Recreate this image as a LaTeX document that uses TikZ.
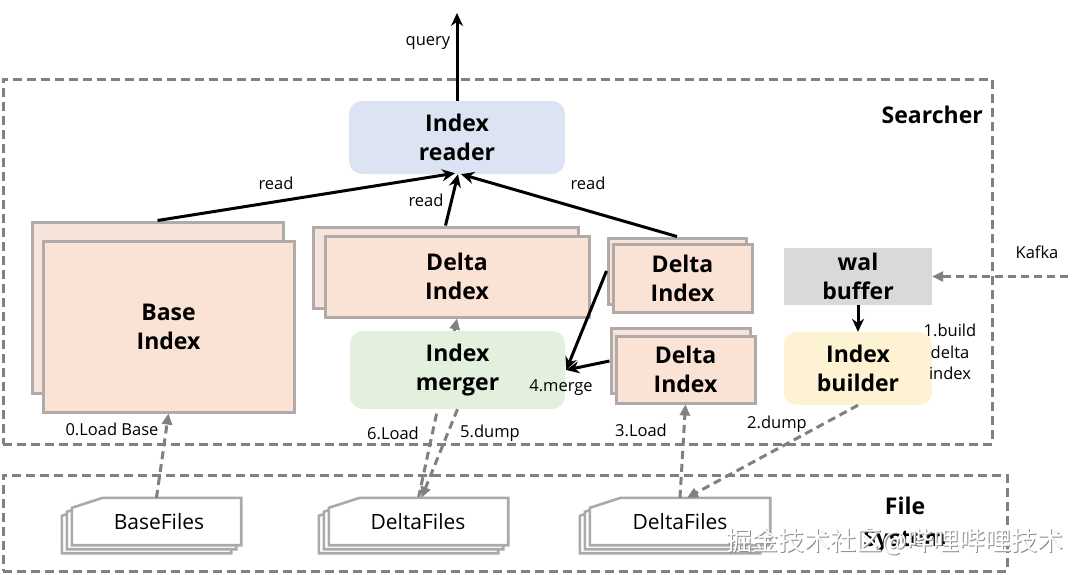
\documentclass[tikz,border=0pt]{standalone}
\usepackage{fontspec}
\setmainfont{Open Sans}
\newfontfamily\cjkfont{Noto Sans CJK SC}
\usetikzlibrary{arrows.meta,calc,backgrounds}
\definecolor{pinkfill}{RGB}{250,226,213}
\definecolor{pinkback}{RGB}{246,228,218}
\definecolor{boxborder}{RGB}{178,170,168}
\definecolor{readerblue}{RGB}{220,228,244}
\definecolor{mergergreen}{RGB}{227,240,221}
\definecolor{builderyellow}{RGB}{253,242,210}
\definecolor{walgray}{RGB}{217,217,217}
\definecolor{dgray}{RGB}{128,128,128}
\definecolor{docgray}{RGB}{170,170,170}
\definecolor{wmgray}{RGB}{140,140,140}
\tikzset{
  bfont/.style={font=\fontsize{23}{29}\selectfont\bfseries},
  lbl/.style={font=\fontsize{16.5}{21.5}\selectfont, inner sep=0pt, align=center},
  frame/.style={draw=dgray, line width=3pt, dash pattern=on 9pt off 5pt, inner sep=0pt},
  pbox/.style={draw=boxborder, line width=3pt, fill=pinkfill, inner sep=0pt, align=center, bfont},
  pback/.style={draw=boxborder, line width=3pt, fill=pinkback, inner sep=0pt},
  rbox/.style={rounded corners=13pt, inner sep=0pt, align=center, bfont},
  darr/.style={draw=dgray, line width=3pt, dash pattern=on 8pt off 5pt, -{Triangle[length=11pt,width=10pt]}},
  barr/.style={draw=black, line width=3pt, -{Stealth[length=13pt,width=12pt]}},
  docline/.style={draw=docgray, line width=2.6pt, fill=white},
  docbox/.style={minimum width=169pt, minimum height=47pt, inner sep=0pt},
  doctext/.style={font=\fontsize{21}{25}\selectfont, inner sep=0pt},
}
\newcommand\docstack[1]{%
  \foreach \d in {2,1,0}{%
    \draw[docline] ($(#1.north west)+(-5*\d,4*\d)+(0,10)$) -- ($(#1.north west)+(-5*\d,4*\d)+(31,0)$)
      -- ($(#1.north east)+(-5*\d,4*\d)$) -- ($(#1.south east)+(-5*\d,4*\d)$)
      -- ($(#1.south west)+(-5*\d,4*\d)$) -- cycle;
  }}
\begin{document}
\begin{tikzpicture}[x=1pt,y=-1pt]
\useasboundingbox (0,0) rectangle (1080,574);
\begin{pgfonlayer}{background}
\fill[white] (0,0) rectangle (1080,574);
\end{pgfonlayer}

% frames
\node[frame, minimum width=989pt, minimum height=365pt] (searcher) at (497.5,261.5) {};
\node[frame, minimum width=1004pt, minimum height=96pt] (fs) at (505,523) {};
\node[bfont, anchor=east, inner sep=0pt] (searcherlbl) at (983,115) {Searcher};
\node[bfont, align=center, inner sep=0pt, font=\fontsize{23}{32}\selectfont\bfseries] (fslbl) at (905,525) {File\\System};

% index reader
\node[rbox, fill=readerblue, minimum width=216pt, minimum height=73pt] (reader) at (457,137.5) {Index\\reader};
\coordinate (qtop) at (457,13);
\draw[barr] (reader.north) -- (qtop);
\node[lbl] (querylbl) at (428,43) {query};

% base index
\node[pback, minimum width=251pt, minimum height=171pt] (baseb) at (157.5,307.5) {};
\node[pbox, minimum width=251pt, minimum height=171pt] (base) at (168.5,326.5) {Base\\Index};

% delta index 1
\node[pback, minimum width=265pt, minimum height=81pt] (d1b) at (445.5,267.5) {};
\node[pbox, minimum width=264pt, minimum height=81pt] (d1) at (457,276.5) {Delta\\Index};

% delta index 2
\node[pback, minimum width=138pt, minimum height=66pt] (d2b) at (677,271) {};
\node[pbox, minimum width=139pt, minimum height=68pt] (d2) at (682.5,278) {Delta\\Index};

% delta index 3
\node[pback, minimum width=139pt, minimum height=65pt] (d3b) at (680.5,361) {};
\node[pbox, minimum width=139pt, minimum height=67pt] (d3) at (685.5,369.5) {Delta\\Index};

% merger
\node[rbox, fill=mergergreen, minimum width=215pt, minimum height=78pt] (merger) at (457.5,370) {Index\\merger};

% wal buffer and builder
\node[fill=walgray, minimum width=148pt, minimum height=57pt, inner sep=0pt, align=center, bfont] (wal) at (858,276.5) {wal\\buffer};
\node[rbox, fill=builderyellow, minimum width=148pt, minimum height=73pt] (builder) at (858,368.5) {Index\\builder};
\draw[barr] (wal.south) -- (builder.north);
\coordinate (kafka) at (1068,276.5);
\draw[darr] (kafka) -- (wal.east);
\node[lbl] (kafkalbl) at (1037,252) {Kafka};
\node[lbl] (buildlbl) at (950,352) {1.build\\delta\\index};

% read connectors
\draw[barr] (baseb.north) -- ($(reader.south)+(-2,-1)$);
\draw[barr] (d1b.north) -- ($(reader.south)+(1,0)$);
\draw[barr] (d2b.north) -- ($(reader.south)+(4,0)$);
\node[lbl] (read1) at (276,183) {read};
\node[lbl] (read2) at (426,200) {read};
\node[lbl] (read3) at (588,183) {read};

% merge connectors
\draw[barr] (d2b.west) -- ($(merger.east)+(1,0)$);
\draw[barr] (d3b.west) -- ($(merger.east)+(1,0)$);
\node[lbl] (mergelbl) at (561,388) {4.merge};

% files
\node[docbox] (bf) at (156.5,521.5) {};
\docstack{bf}
\node[doctext] (bftext) at (159,521.5) {BaseFiles};
\node[docbox, minimum width=179pt] (df1) at (418.5,521.5) {};
\docstack{df1}
\node[doctext] (df1text) at (418,521.5) {DeltaFiles};
\node[docbox, minimum width=180pt] (df2) at (680,521.5) {};
\docstack{df2}
\node[doctext] (df2text) at (680,521.5) {DeltaFiles};

% dashed connectors
\begin{pgfonlayer}{background}
\draw[darr] (df1.north) -- (d1.south);
\end{pgfonlayer}
\draw[darr] (merger.south) -- ($(df1.north)+(3,0)$);
\draw[darr] (bf.north) -- (base.south);
\draw[darr] (df2.north) -- (d3.south);
\draw[darr] (builder.south) -- ($(df2.north)+(7,0)$);
\node[lbl] (l0) at (112,429) {0.Load Base};
\node[lbl] (l6) at (393,433) {6.Load};
\node[lbl] (l5) at (490,433) {5.dump};
\node[lbl] (l3) at (641,430) {3.Load};
\node[lbl] (l2) at (777,424) {2.dump};

% watermark
\node[font=\cjkfont\fontsize{26}{30}\selectfont, text=wmgray, inner sep=0pt] (wmshadow) at (896.2,543.2) {掘金技术社区@哔哩哔哩技术};
\node[font=\cjkfont\fontsize{26}{30}\selectfont, text=white, inner sep=0pt] (wm) at (895,542) {掘金技术社区@哔哩哔哩技术};
\end{tikzpicture}
\end{document}
